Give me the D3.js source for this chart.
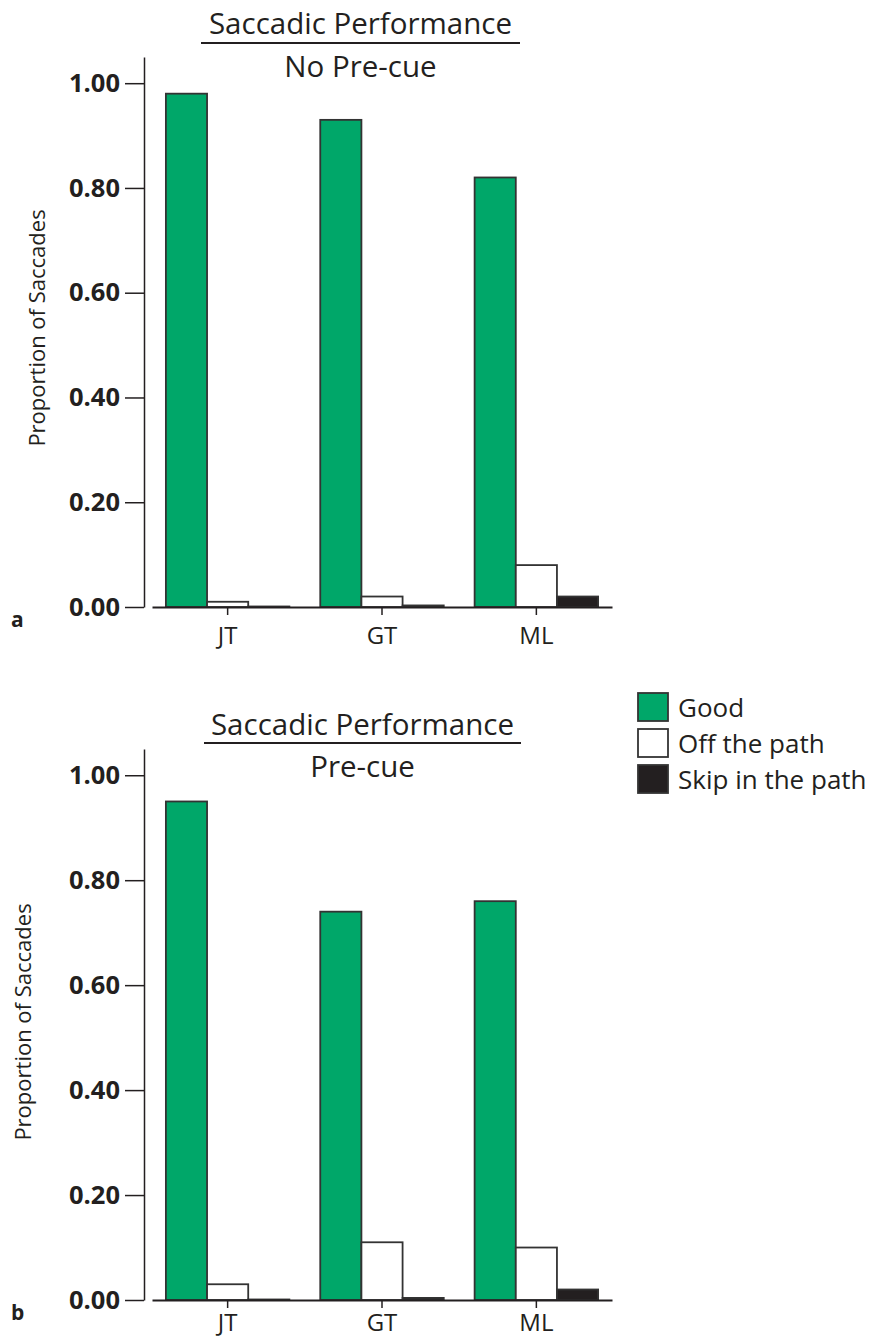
<!DOCTYPE html>
<html><head><meta charset="utf-8">
<script src="https://cdn.jsdelivr.net/npm/d3@7"></script>
<style>body{margin:0;background:#fff} text{font-family:"Open Sans",sans-serif;fill:#231f20}</style>
</head><body><svg id="c" width="877" height="1339"></svg>
<script>
const categories = ["JT","GT","ML"];
const seriesNames = ["Good","Off the path","Skip in the path"];
const seriesColors = ["#00a769","#ffffff","#231f20"];
const yTicks = [0,0.2,0.4,0.6,0.8,1.0];
const noPrecueGood = [0.98,0.93,0.82];
const noPrecueOff = [0.01,0.02,0.08];
const noPrecueSkip = [0.001,0.003,0.02];
const precueGood = [0.95,0.74,0.76];
const precueOff = [0.03,0.11,0.10];
const precueSkip = [0.001,0.004,0.02];
const panelTitle = "Saccadic Performance";
const yLabel = "Proportion of Saccades";

const svg = d3.select("#c");
const panels = [
 {subtitle:"No Pre-cue", letter:"a", values:[noPrecueGood,noPrecueOff,noPrecueSkip], y0:607, y1:57, titleY:34, lineY:43, subY:77, lineX:[201,520], catY:644, letterY:627, ylabX:45, ylabY:328},
 {subtitle:"Pre-cue", letter:"b", values:[precueGood,precueOff,precueSkip], y0:1300, y1:749, titleY:735, lineY:743, subY:777, lineX:[204,521], catY:1331, letterY:1320, ylabX:31, ylabY:1022}
];

const x = d3.scaleBand().domain(categories).range([152,612]).paddingInner(0.2).paddingOuter(0.09);
const xs = d3.scaleBand().domain(seriesNames).range([0,x.bandwidth()]);
const color = d3.scaleOrdinal().domain(seriesNames).range(seriesColors);

panels.forEach(p => {
  const y = d3.scaleLinear().domain([0,1.05]).range([p.y0,p.y1]);
  const g = svg.append("g");
  const cx = (p.lineX[0]+p.lineX[1])/2;
  g.append("text").attr("x",cx).attr("y",p.titleY).attr("text-anchor","middle").style("font-size","29.5px").text(panelTitle);
  g.append("line").attr("x1",p.lineX[0]).attr("x2",p.lineX[1]).attr("y1",p.lineY).attr("y2",p.lineY).attr("stroke","#231f20").attr("stroke-width",2);
  g.append("text").attr("x",cx).attr("y",p.subY).attr("text-anchor","middle").style("font-size","29.5px").text(p.subtitle);

  seriesNames.forEach((s,i) => {
    g.selectAll(null).data(categories.map((c,j)=>({c, v:p.values[i][j]}))).enter().append("rect")
      .attr("x", d => x(d.c)+xs(s))
      .attr("y", d => y(d.v))
      .attr("width", xs.bandwidth())
      .attr("height", d => y(0)-y(d.v))
      .attr("fill", color(s))
      .attr("stroke","#333").attr("stroke-width",1.8);
  });

  const ya = g.append("g").attr("transform","translate(144,0)")
    .call(d3.axisLeft(y).tickValues(yTicks).tickFormat(d3.format(".2f")).tickSize(19).tickSizeOuter(0).tickPadding(5));
  ya.select(".domain").attr("stroke","#231f20").attr("stroke-width",1.5);
  ya.selectAll(".tick line").attr("stroke","#231f20").attr("stroke-width",1.5);
  ya.selectAll("text").style("font-size","25.5px").style("font-weight","bold").attr("fill","#231f20").style("font-family","'Open Sans',sans-serif");

  const xa = g.append("g").attr("transform",`translate(0,${p.y0})`)
    .call(d3.axisBottom(x).tickSize(8).tickSizeOuter(0));
  xa.select(".domain").attr("stroke","#231f20").attr("stroke-width",2);
  xa.selectAll(".tick line").attr("stroke","#231f20").attr("stroke-width",1.5);
  xa.selectAll("text").attr("y",p.catY-p.y0).attr("dy",0).style("font-size","24px").attr("fill","#231f20").style("font-family","'Open Sans',sans-serif");

  g.append("text").attr("transform",`translate(${p.ylabX},${p.ylabY}) rotate(-90)`).attr("text-anchor","middle").style("font-size","22px").text(yLabel);
  g.append("text").attr("x",11).attr("y",p.letterY).style("font-size","21px").style("font-weight","bold").text(p.letter);
});

const lg = svg.append("g");
seriesNames.forEach((s,i) => {
  lg.append("rect").attr("x",638).attr("y",693+36*i).attr("width",30).attr("height",28).attr("fill",color(s)).attr("stroke","#333").attr("stroke-width",1.8);
  lg.append("text").attr("x",678).attr("y",717+36*i).style("font-size","26px").text(s);
});
</script></body></html>
